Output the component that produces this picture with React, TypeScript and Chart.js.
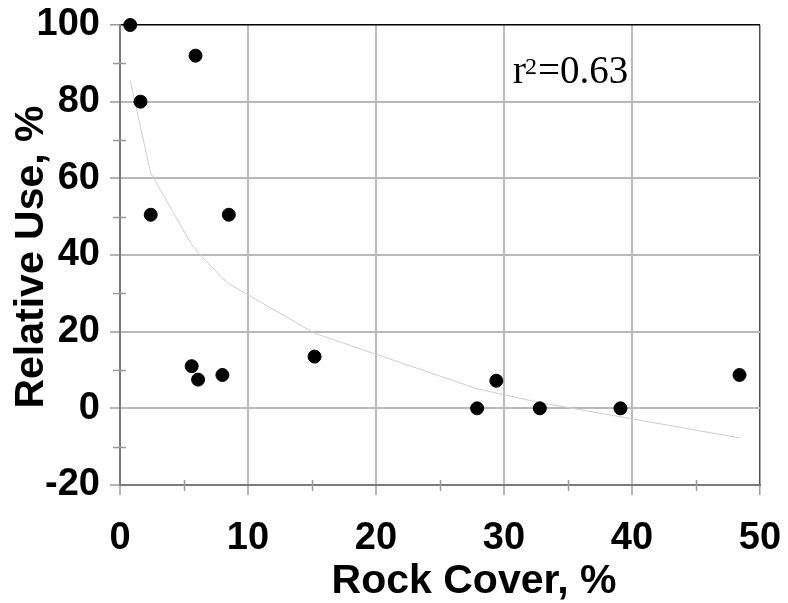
import { useEffect, useRef } from "react";
import { Chart, registerables } from "chart.js";

Chart.register(...registerables);

// Observed sites
const rockCover = [0.8, 1.6, 5.9, 2.4, 8.5, 5.6, 6.1, 8.0, 15.2, 27.9, 29.4, 32.8, 39.1, 48.4];
const relativeUse = [100, 80, 92, 50.5, 50.5, 11, 7.5, 8.7, 13.5, 0, 7.2, 0, 0, 8.7];

// Logarithmic trend, evaluated at the observed cover values
const fitCover = [0.8, 1.6, 2.4, 5.6, 5.9, 6.1, 8.0, 8.5, 15.2, 27.9, 29.4, 32.8, 39.1, 48.4];
const fitUse = [85.5, 73.4, 61.4, 42.7, 41.5, 40.6, 34.0, 32.5, 19.6, 5.1, 4.0, 1.5, -2.2, -7.7];

const xTicks = [0, 10, 20, 30, 40, 50];
const yTicks = [-20, 0, 20, 40, 60, 80, 100];
const xMinorTicks = [5, 15, 25, 35, 45];
const yMinorTicks = [-10, 10, 30, 50, 70, 90];

const xTitle = "Rock Cover, %";
const yTitle = "Relative Use, %";
const fitBase = "r";
const fitSup = "2";
const fitRest = "=0.63";

const SANS = '"Liberation Sans", Arial, sans-serif';
const SERIF = '"Liberation Serif", "Times New Roman", serif';

const decorations = {
  id: "decorations",
  afterDraw(chart: any) {
    const { ctx } = chart;
    const xs = chart.scales.x;
    const ys = chart.scales.y;
    const area = chart.chartArea;
    ctx.save();

    // minor tick marks crossing the axes
    ctx.strokeStyle = "#9a9a9a";
    ctx.lineWidth = 1.5;
    ctx.beginPath();
    for (const v of xMinorTicks) {
      const px = Math.round(xs.getPixelForValue(v)) + 0.5;
      ctx.moveTo(px, area.bottom - 5);
      ctx.lineTo(px, area.bottom + 6);
    }
    for (const v of yMinorTicks) {
      const py = Math.round(ys.getPixelForValue(v)) + 0.5;
      ctx.moveTo(area.left - 7, py);
      ctx.lineTo(area.left + 6, py);
    }
    ctx.stroke();

    // axis titles
    ctx.fillStyle = "#000";
    ctx.font = `bold 41px ${SANS}`;
    ctx.textAlign = "center";
    ctx.textBaseline = "alphabetic";
    ctx.fillText(xTitle, 474, 593);

    ctx.save();
    ctx.translate(43, 257);
    ctx.rotate(-Math.PI / 2);
    ctx.fillText(yTitle, 0, 0);
    ctx.restore();

    // goodness-of-fit label
    ctx.textAlign = "left";
    ctx.font = `39px ${SERIF}`;
    const baseX = 513;
    const baseY = 83;
    ctx.fillText(fitBase, baseX, baseY);
    const rW = ctx.measureText(fitBase).width;
    ctx.font = `24px ${SERIF}`;
    ctx.fillText(fitSup, baseX + rW - 1, baseY - 9);
    ctx.font = `39px ${SERIF}`;
    ctx.fillText(fitRest, baseX + rW + 12, baseY);

    ctx.restore();
  },
};

export default function App() {
  const canvasRef = useRef<HTMLCanvasElement | null>(null);

  useEffect(() => {
    const canvas = canvasRef.current;
    if (!canvas) return;

    const chart = new Chart(canvas, {
      type: "scatter",
      data: {
        datasets: [
          {
            type: "line",
            data: fitCover.map((x, i) => ({ x, y: fitUse[i] })),
            borderColor: "#cdcdcd",
            borderWidth: 1,
            pointRadius: 0,
            fill: false,
            tension: 0,
            order: 2,
          },
          {
            type: "scatter",
            data: rockCover.map((x, i) => ({ x, y: relativeUse[i] })),
            backgroundColor: "#000",
            borderColor: "#000",
            pointRadius: 6.5,
            pointHoverRadius: 6.5,
            clip: false,
            order: 1,
          },
        ],
      },
      options: {
        responsive: false,
        animation: false,
        events: [],
        layout: { padding: { top: 25, right: 28, left: 0, bottom: 0 } },
        plugins: {
          legend: { display: false },
          tooltip: { enabled: false },
          title: { display: false },
        },
        scales: {
          x: {
            type: "linear",
            min: 0,
            max: 50,
            afterBuildTicks: (s: any) => {
              s.ticks = xTicks.map((value) => ({ value }));
            },
            afterFit: (s: any) => {
              s.height = 118;
              s.paddingLeft = 0;
              s.paddingRight = 0;
            },
            grid: {
              color: (c: any) => (c.tick && c.tick.value === 50 ? "#505050" : "#b9b9b9"),
              lineWidth: (c: any) => (c.tick && c.tick.value === 50 ? 1.5 : 2),
              drawTicks: true,
              tickLength: 10,
              tickColor: "#9a9a9a",
              tickWidth: 1.5,
            },
            border: { display: true, color: "#7a7a7a", width: 2 },
            ticks: {
              color: "#000",
              padding: 21,
              maxRotation: 0,
              font: { family: SANS, size: 38, weight: "bold" },
              callback: (v: any) => String(v),
            },
          },
          y: {
            type: "linear",
            min: -20,
            max: 100,
            afterBuildTicks: (s: any) => {
              s.ticks = yTicks.map((value) => ({ value }));
            },
            afterFit: (s: any) => {
              s.width = 120;
              s.paddingTop = 0;
              s.paddingBottom = 0;
            },
            grid: {
              color: (c: any) => (c.tick && c.tick.value === 100 ? "#000" : "#b9b9b9"),
              lineWidth: (c: any) => (c.tick && c.tick.value === 100 ? 1.5 : 2),
              drawTicks: true,
              tickLength: 10,
              tickColor: "#9a9a9a",
              tickWidth: 1.5,
            },
            border: { display: true, color: "#7a7a7a", width: 2 },
            ticks: {
              color: "#000",
              padding: 10,
              font: { family: SANS, size: 38, weight: "bold" },
              callback: (v: any) => String(v),
            },
          },
        },
      },
      plugins: [decorations],
    } as any);

    return () => chart.destroy();
  }, []);

  return (
    <div style={{ position: "fixed", left: 0, top: 0, width: 788, height: 603, background: "#fff" }}>
      <canvas ref={canvasRef} width={788} height={603} style={{ display: "block" }} />
    </div>
  );
}
